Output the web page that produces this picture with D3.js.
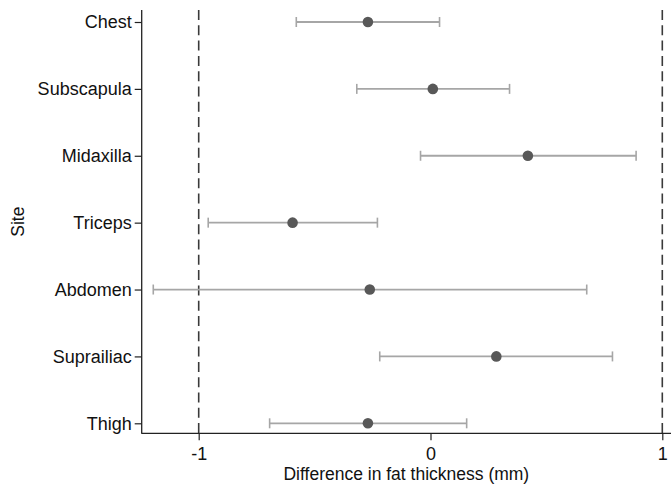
<!DOCTYPE html>
<html>
<head>
<meta charset="utf-8">
<script src="https://cdn.jsdelivr.net/npm/d3@7"></script>
<style>
  html, body { margin: 0; padding: 0; background: #fff; }
  svg { display: block; }
  text { font-family: "Liberation Sans", Arial, sans-serif; }
</style>
</head>
<body>
<svg id="chart" width="671" height="485"></svg>
<script>
const sites = ["Chest", "Subscapula", "Midaxilla", "Triceps", "Abdomen", "Suprailiac", "Thigh"];
const meanDiff = [-0.27, 0.01, 0.42, -0.595, -0.262, 0.284, -0.27];
const lowerCI  = [-0.579, -0.318, -0.043, -0.959, -1.196, -0.219, -0.694];
const upperCI  = [0.039, 0.341, 0.887, -0.229, 0.674, 0.785, 0.156];
const xTicks = [-1, 0, 1];
const refLines = [-1, 1];

const svg = d3.select("#chart");
const mLeft = 141.7, mRight = 671, mTop = 10, mBottom = 433.3;
const FS = 17.5;

const x = d3.scaleLinear().domain([-1, 1]).range([198.7, 662.3]);
const y = d3.scalePoint().domain(sites).range([22, 423.3]);

// reference dashed lines
svg.selectAll(".ref").data(refLines).enter().append("line")
  .attr("x1", d => x(d)).attr("x2", d => x(d))
  .attr("y1", mTop).attr("y2", mBottom)
  .attr("stroke", "#3a3a3a").attr("stroke-width", 1.6)
  .attr("stroke-dasharray", "10,5.3");

// error bars
const data = sites.map((s, i) => ({ s, m: meanDiff[i], lo: lowerCI[i], hi: upperCI[i] }));
const g = svg.append("g");
g.selectAll(".bar").data(data).enter().append("line")
  .attr("x1", d => x(d.lo)).attr("x2", d => x(d.hi))
  .attr("y1", d => y(d.s)).attr("y2", d => y(d.s))
  .attr("stroke", "#a6a6a6").attr("stroke-width", 1.8);
g.selectAll(".capl").data(data).enter().append("line")
  .attr("x1", d => x(d.lo)).attr("x2", d => x(d.lo))
  .attr("y1", d => y(d.s) - 5).attr("y2", d => y(d.s) + 5)
  .attr("stroke", "#a6a6a6").attr("stroke-width", 1.6);
g.selectAll(".capr").data(data).enter().append("line")
  .attr("x1", d => x(d.hi)).attr("x2", d => x(d.hi))
  .attr("y1", d => y(d.s) - 5).attr("y2", d => y(d.s) + 5)
  .attr("stroke", "#a6a6a6").attr("stroke-width", 1.6);
g.selectAll(".pt").data(data).enter().append("circle")
  .attr("cx", d => x(d.m)).attr("cy", d => y(d.s)).attr("r", 5.3)
  .attr("fill", "#585858");

// y axis
const yAxis = svg.append("g").attr("transform", `translate(${mLeft},0)`)
  .call(d3.axisLeft(y).tickSize(7).tickPadding(3));
yAxis.select(".domain").remove();
yAxis.append("line").attr("x1", 0).attr("x2", 0).attr("y1", mTop).attr("y2", mBottom + 0.5)
  .attr("stroke", "#222").attr("stroke-width", 1.3);
yAxis.selectAll(".tick line").attr("stroke", "#222").attr("stroke-width", 1.2);
yAxis.selectAll(".tick text").attr("font-size", 18).attr("fill", "#111")
  .style("font-family", "'Liberation Sans', Arial, sans-serif");

// x axis
const xAxis = svg.append("g").attr("transform", `translate(0,${mBottom})`)
  .call(d3.axisBottom(x).tickValues(xTicks).tickSize(7).tickPadding(7)
    .tickFormat(d => String(d)));
xAxis.select(".domain").remove();
xAxis.append("line").attr("x1", mLeft).attr("x2", mRight).attr("y1", 0).attr("y2", 0)
  .attr("stroke", "#222").attr("stroke-width", 1.3);
xAxis.selectAll(".tick line").attr("stroke", "#222").attr("stroke-width", 1.2);
xAxis.selectAll(".tick text").attr("font-size", 18).attr("fill", "#111")
  .style("font-family", "'Liberation Sans', Arial, sans-serif");

// axis titles
svg.append("text").attr("x", (mLeft + mRight) / 2).attr("y", 480)
  .attr("text-anchor", "middle").attr("font-size", FS).attr("fill", "#111")
  .text("Difference in fat thickness (mm)");
svg.append("text").attr("transform", `translate(24,${(mTop + mBottom) / 2}) rotate(-90)`)
  .attr("text-anchor", "middle").attr("font-size", FS).attr("fill", "#111")
  .text("Site");
</script>
</body>
</html>
